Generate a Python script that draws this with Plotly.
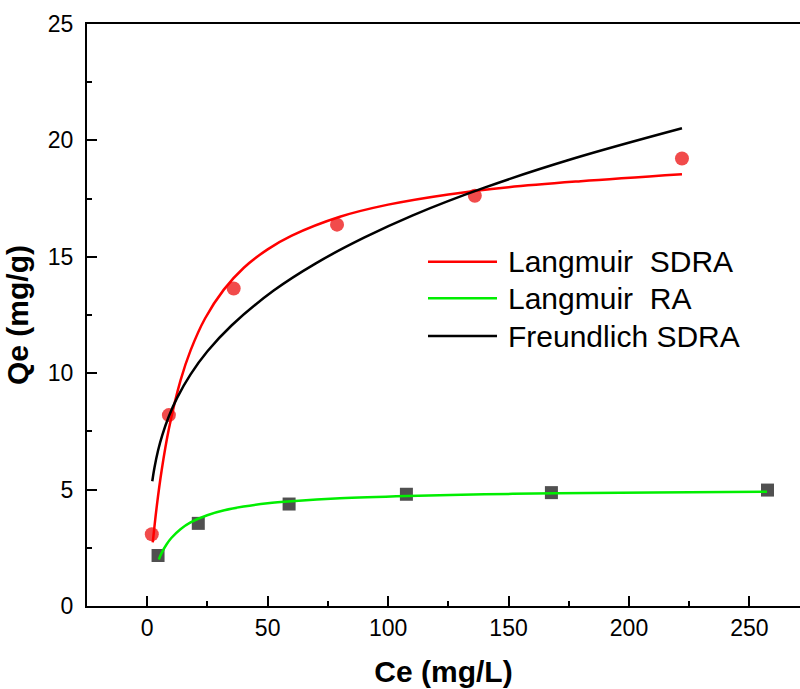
import plotly.graph_objects as go

# Measured data points
sdra_ce = [1.9, 9.0, 35.9, 78.8, 136.0, 222.0]
sdra_qe = [3.08, 8.2, 13.64, 16.38, 17.62, 19.22]

ra_ce = [4.5, 21.2, 58.9, 107.6, 167.8, 257.5]
ra_qe = [2.17, 3.55, 4.38, 4.8, 4.87, 4.98]

# Fitted curves
lang_sdra_x = [2.3, 4.0, 6.0, 9.0, 13.8, 18.0, 24.0, 31.8, 40.0, 50.0, 60.0, 80.0, 100.0, 125.0, 150.0, 180.0, 222.0]
lang_sdra_y = [2.73, 4.31, 5.83, 7.61, 9.68, 10.98, 12.35, 13.59, 14.52, 15.32, 15.91, 16.72, 17.24, 17.68, 17.99, 18.25, 18.55]

lang_ra_x = [4.8, 6.0, 8.0, 10.0, 13.8, 18.0, 24.9, 32.0, 40.0, 50.0, 60.0, 80.0, 108.0, 140.0, 170.0, 210.0, 257.3]
lang_ra_y = [2.0, 2.28, 2.64, 2.92, 3.30, 3.59, 3.90, 4.11, 4.27, 4.41, 4.50, 4.63, 4.73, 4.80, 4.84, 4.88, 4.91]

freund_x = [2.1, 3.0, 4.5, 6.2, 9.0, 12.4, 18.0, 25.0, 35.0, 52.5, 70.0, 90.0, 110.0, 140.0, 177.0, 222.0]
freund_y = [5.36, 5.94, 6.68, 7.32, 8.15, 8.94, 9.95, 10.94, 12.05, 13.55, 14.72, 15.82, 16.77, 17.97, 19.22, 20.52]

legend_names = ["Langmuir\u00a0 SDRA", "Langmuir\u00a0 RA", "Freundlich SDRA"]
legend_colors = ["#ff0000", "#00ee00", "#000000"]

x_ticks = [0, 50, 100, 150, 200, 250]
y_ticks = [0, 5, 10, 15, 20, 25]

FONT = "Liberation Sans, Arial"

fig = go.Figure()

fig.add_trace(go.Scatter(x=sdra_ce, y=sdra_qe, mode="markers", showlegend=False, name="SDRA data",
                         marker=dict(symbol="circle", size=14, color="rgba(240,60,60,0.92)",
                                     line=dict(width=0))))
fig.add_trace(go.Scatter(x=ra_ce, y=ra_qe, mode="markers", showlegend=False, name="RA data",
                         marker=dict(symbol="square", size=13, color="#505050",
                                     line=dict(width=0))))

curves = [(lang_sdra_x, lang_sdra_y), (lang_ra_x, lang_ra_y), (freund_x, freund_y)]
for (cx, cy), nm, col in zip(curves, legend_names, legend_colors):
    fig.add_trace(go.Scatter(x=cx, y=cy, mode="lines", name=nm, showlegend=False,
                             line=dict(color=col, width=2.5, shape="spline", smoothing=1.0)))

# Manual legend (to match the reference's sample length and row spacing)
plot_l, plot_w, plot_b, plot_h = 87, 713, 606, 582
leg_rows_px = [261.7, 298.3, 336.0]
for nm, col, ry in zip(legend_names, legend_colors, leg_rows_px):
    yp = (plot_b - ry) / plot_h
    fig.add_shape(type="line", xref="paper", yref="paper",
                  x0=(428 - plot_l) / plot_w, x1=(497 - plot_l) / plot_w, y0=yp, y1=yp,
                  line=dict(color=col, width=2.5))
    fig.add_annotation(xref="paper", yref="paper", x=(506 - plot_l) / plot_w, y=yp,
                       xanchor="left", yanchor="middle", text=nm, showarrow=False,
                       font=dict(family=FONT, size=30, color="black"))

axis_common = dict(
    showgrid=False, zeroline=False, showline=True, linecolor="black", linewidth=2,
    ticks="inside", ticklen=10, tickwidth=2, tickcolor="black",
    tickfont=dict(family=FONT, size=23, color="black"),
)

fig.update_xaxes(range=[-25, 271], tickvals=x_ticks, mirror=True,
                 minor=dict(ticks="inside", ticklen=5, tickwidth=2, dtick=25, tick0=0, tickcolor="black"),
                 title=dict(text="<b>Ce (mg/L)</b>", font=dict(family=FONT, size=30, color="black"),
                            standoff=21),
                 **axis_common)
fig.update_yaxes(range=[0, 25], tickvals=y_ticks, ticklabelstandoff=7,
                 minor=dict(ticks="inside", ticklen=5, tickwidth=2, dtick=2.5, tick0=0, tickcolor="black"),
                 title=dict(text="<b>Qe (mg/g)</b>", font=dict(family=FONT, size=30, color="black"),
                            standoff=10),
                 **axis_common)

fig.update_layout(
    width=800, height=689,
    margin=dict(l=87, r=0, t=24, b=83),
    plot_bgcolor="white", paper_bgcolor="white",
    showlegend=False,
)

fig.write_html("out.html")
